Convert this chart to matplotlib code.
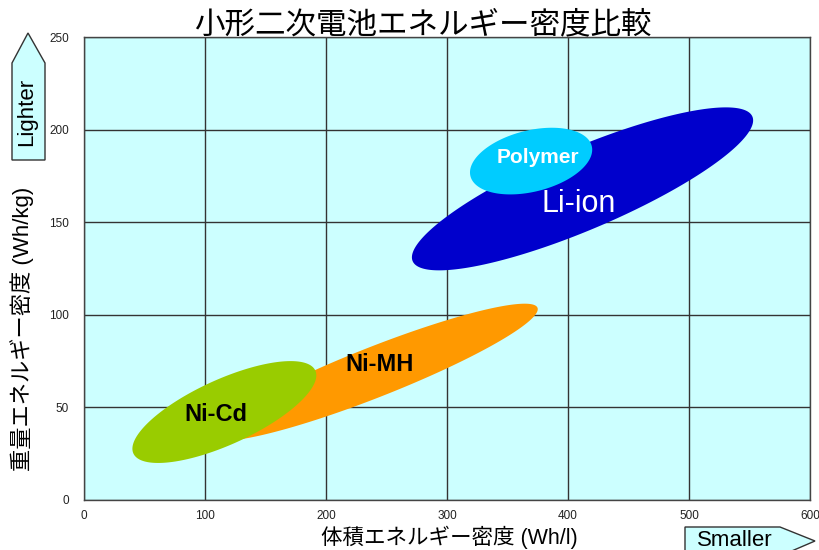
import numpy as np
import matplotlib
matplotlib.use("Agg")
import matplotlib.pyplot as plt
from matplotlib.patches import Polygon

plt.rcParams['font.family'] = ['Liberation Sans', 'Noto Sans CJK JP', 'DejaVu Sans']

# ---- data ----
title = "小形二次電池エネルギー密度比較"
xlabel = "体積エネルギー密度 (Wh/l)"
ylabel = "重量エネルギー密度 (Wh/kg)"
xticks = [0, 100, 200, 300, 400, 500, 600]
yticks = [0, 50, 100, 150, 200, 250]

batteries = ["Ni-MH", "Ni-Cd", "Li-ion", "Polymer"]
vol_min = [105, 40, 271, 319]     # Wh/l
vol_max = [375, 192, 553, 420]
grav_min = [32, 20, 124, 165]     # Wh/kg
grav_max = [106, 75, 212, 201]
corr = [0.92, 0.72, 0.84, 0.34]   # tilt of each region
label_x = [244, 109, 409, 375]
label_y = [73, 46, 160, 185]

colors = ["#FF9900", "#99CC00", "#0000CC", "#00CCFF"]
label_colors = ["black", "black", "white", "white"]
label_weights = ["bold", "bold", "normal", "bold"]
label_sizes = [17, 17, 22, 15]

fig = plt.figure(figsize=(8.2, 5.5), dpi=100)
ax = fig.add_axes([84 / 820, 50 / 550, 726 / 820, 463 / 550])
ax.set_facecolor("#CCFFFF")
ax.set_xlim(0, 600)
ax.set_ylim(0, 250)
ax.set_xticks(xticks)
ax.set_yticks(yticks)
ax.tick_params(axis="x", length=0, labelsize=8.5, labelcolor="#222222", pad=7)
ax.tick_params(axis="y", length=0, labelsize=8.5, labelcolor="#222222", pad=11)
ax.grid(True, color="#333333", lw=1.0)
ax.set_axisbelow(True)
for s in ax.spines.values():
    s.set_color("#444444")
    s.set_linewidth(1.0)

t = np.linspace(0, 2 * np.pi, 400)
for i, name in enumerate(batteries):
    cx = (vol_min[i] + vol_max[i]) / 2
    cy = (grav_min[i] + grav_max[i]) / 2
    sx = (vol_max[i] - vol_min[i]) / 2
    sy = (grav_max[i] - grav_min[i]) / 2
    r = corr[i]
    xs = cx + sx * np.cos(t)
    ys = cy + sy * (r * np.cos(t) + np.sqrt(1 - r * r) * np.sin(t))
    ax.fill(xs, ys, color=colors[i], lw=0, zorder=2 + i)
    ax.text(label_x[i], label_y[i], name, color=label_colors[i],
            fontsize=label_sizes[i], fontweight=label_weights[i],
            ha="center", va="center", zorder=10)

fig.text(423 / 820, 1 - 25 / 550, title, fontsize=22, ha="center", va="center",
         family=["Noto Sans CJK JP"])
fig.text(449 / 820, 1 - 537 / 550, xlabel, fontsize=15.5, ha="center", va="center")
fig.text(22 / 820, 1 - 329 / 550, ylabel, fontsize=16, ha="center", va="center",
         rotation=90)

# direction arrows
W, H = 820, 550
def fpoly(pts):
    return [(x / W, 1 - y / H) for x, y in pts]

up = Polygon(fpoly([(12, 160), (12, 63), (28, 33), (45, 63), (45, 160)]),
             closed=True, transform=fig.transFigure, facecolor="#CCFFFF",
             edgecolor="#333333", lw=1.0)
fig.add_artist(up)
fig.text(27 / W, 1 - 112 / H, "Lighter", rotation=90, fontsize=16,
         ha="center", va="center")

right = Polygon(fpoly([(685, 556), (685, 527), (780, 527), (815, 541), (780, 556)]),
                closed=True, transform=fig.transFigure, facecolor="#CCFFFF",
                edgecolor="#333333", lw=1.0)
fig.add_artist(right)
fig.text(735 / W, 1 - 541 / H, "Smaller", fontsize=16, ha="center", va="center")

fig.savefig("out.png", dpi=100)
